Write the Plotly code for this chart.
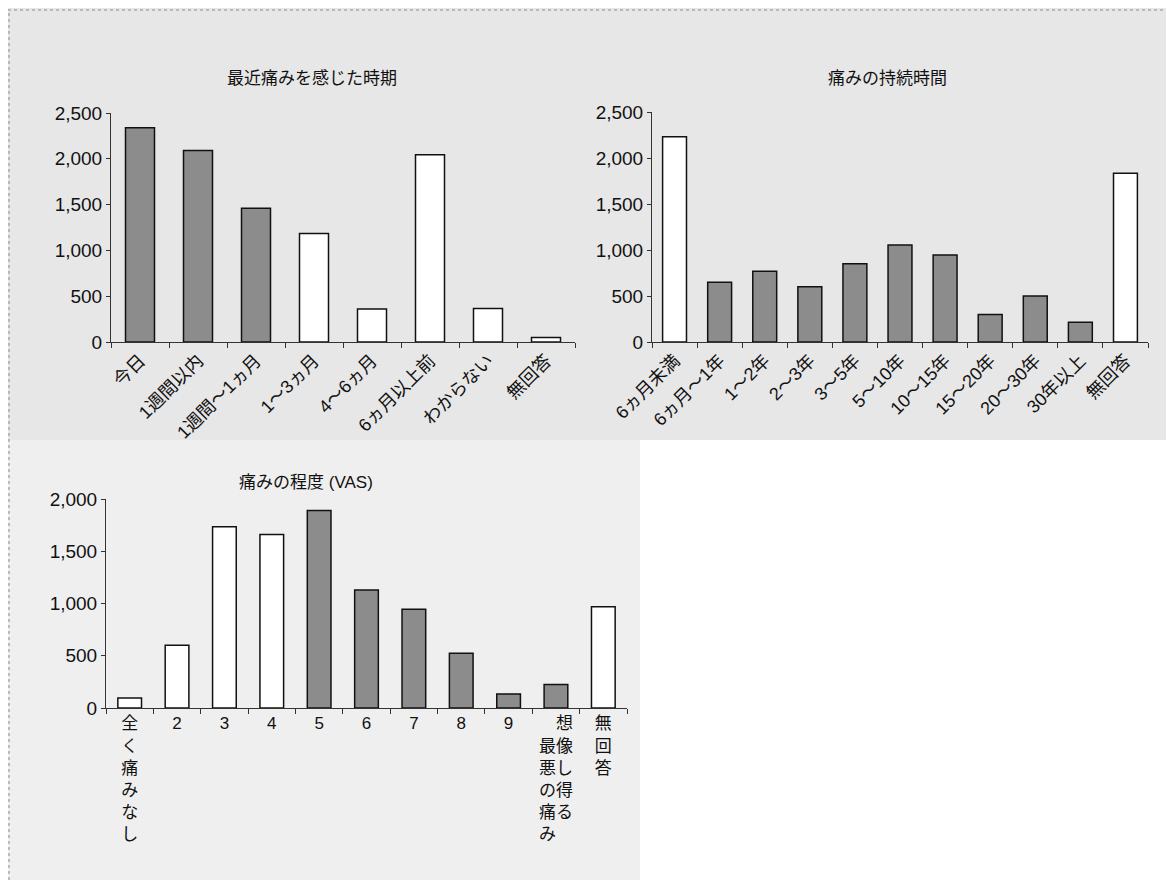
import plotly.graph_objects as go

# ---------------- data ----------------
recent_cats = ["今日", "1週間以内", "1週間〜1ヵ月", "1〜3ヵ月", "4〜6ヵ月", "6ヵ月以上前", "わからない", "無回答"]
recent_vals = [2340, 2090, 1460, 1185, 360, 2045, 365, 50]
recent_dark = [True, True, True, False, False, False, False, False]

dur_cats = ["6ヵ月未満", "6ヵ月〜1年", "1〜2年", "2〜3年", "3〜5年", "5〜10年", "10〜15年", "15〜20年", "20〜30年", "30年以上", "無回答"]
dur_vals = [2230, 650, 770, 600, 850, 1055, 945, 300, 500, 215, 1835]
dur_dark = [False, True, True, True, True, True, True, True, True, True, False]

vas_cats = ["全く痛みなし", "2", "3", "4", "5", "6", "7", "8", "9", "想像し得る最悪の痛み", "無回答"]
vas_ticktext = ["全<br>く<br>痛<br>み<br>な<br>し", "2", "3", "4", "5", "6", "7", "8", "9",
                "　想<br>最像<br>悪し<br>の得<br>痛る<br>み　", "無<br>回<br>答"]
vas_vals = [95, 600, 1735, 1660, 1890, 1130, 945, 525, 135, 225, 970]
vas_dark = [False, False, False, False, True, True, True, True, True, True, False]

titles = ["最近痛みを感じた時期", "痛みの持続時間", "痛みの程度 (VAS)"]

# ---------------- style ----------------
OFF = 8                      # page body margin of the html page
W, H = 1174 - OFF, 880 - OFF
FONT = "Liberation Sans, Arial, Noto Sans CJK JP"
DARK = "#8c8c8c"
LIGHT = "#ffffff"


def fx(px):
    return (px - OFF) / W


def fy(py):
    return 1 - (py - OFF) / H


def colors(flags):
    return [DARK if f else LIGHT for f in flags]


fig = go.Figure()

fig.add_trace(go.Bar(x=recent_cats, y=recent_vals, xaxis="x", yaxis="y",
                     marker=dict(color=colors(recent_dark), line=dict(color="#111", width=1.5)),
                     width=0.5, showlegend=False))
fig.add_trace(go.Bar(x=dur_cats, y=dur_vals, xaxis="x2", yaxis="y2",
                     marker=dict(color=colors(dur_dark), line=dict(color="#111", width=1.5)),
                     width=0.53, showlegend=False))
fig.add_trace(go.Bar(x=vas_cats, y=vas_vals, xaxis="x3", yaxis="y3",
                     marker=dict(color=colors(vas_dark), line=dict(color="#111", width=1.5)),
                     width=0.5, showlegend=False))

axis_common = dict(showline=True, linecolor="#333", linewidth=1, ticks="outside",
                   tickcolor="#333", ticklen=4, showgrid=False, zeroline=False,
                   automargin=False,
                   tickfont=dict(family=FONT, size=19, color="#111"))

xcat = dict(axis_common, type="category", tickson="boundaries", ticklen=5,
            tickfont=dict(family=FONT, size=18, color="#111"))

fig.update_layout(
    template="none",
    width=W, height=H,
    margin=dict(l=0, r=0, t=0, b=0, pad=0, autoexpand=False),
    paper_bgcolor="#ffffff",
    plot_bgcolor="rgba(0,0,0,0)",
    xaxis=dict(xcat, domain=[fx(111), fx(575)], anchor="y", tickangle=-45),
    yaxis=dict(axis_common, domain=[fy(342), fy(113)], anchor="x", range=[0, 2500],
               tickvals=[0, 500, 1000, 1500, 2000, 2500], tickformat=","),
    xaxis2=dict(xcat, domain=[fx(652), fx(1148)], anchor="y2", tickangle=-45),
    yaxis2=dict(axis_common, domain=[fy(342), fy(112)], anchor="x2", range=[0, 2500],
                tickvals=[0, 500, 1000, 1500, 2000, 2500], tickformat=","),
    xaxis3=dict(xcat, domain=[fx(106), fx(627)], anchor="y3", tickangle=0,
                categoryorder="array", categoryarray=vas_cats,
                tickvals=vas_cats, ticktext=vas_ticktext,
                tickfont=dict(family=FONT, size=17, color="#111")),
    yaxis3=dict(axis_common, domain=[fy(708), fy(499)], anchor="x3", range=[0, 2000],
                tickvals=[0, 500, 1000, 1500, 2000], tickformat=","),
)

# background (scanned paper look) and frame
fig.add_shape(type="rect", xref="paper", yref="paper", x0=0, x1=1, y0=fy(440), y1=1,
              fillcolor="#e7e7e7", line_width=0, layer="below")
fig.add_shape(type="rect", xref="paper", yref="paper", x0=0, x1=fx(640), y0=0, y1=fy(440),
              fillcolor="#efefef", line_width=0, layer="below")
fig.add_shape(type="line", xref="paper", yref="paper", x0=fx(8), x1=1, y0=fy(10), y1=fy(10),
              line=dict(color="#8a8a8a", width=1, dash="dot"))
fig.add_shape(type="line", xref="paper", yref="paper", x0=fx(9), x1=fx(9), y0=0, y1=fy(10),
              line=dict(color="#8a8a8a", width=1, dash="dot"))

# chart titles
for t, (px, py) in zip(titles, [(312, 78), (887, 78), (306, 482)]):
    fig.add_annotation(text=t, xref="paper", yref="paper", x=fx(px), y=fy(py),
                       showarrow=False, xanchor="center", yanchor="middle",
                       font=dict(family=FONT, size=17, color="#111"))

fig.write_html("out.html")
